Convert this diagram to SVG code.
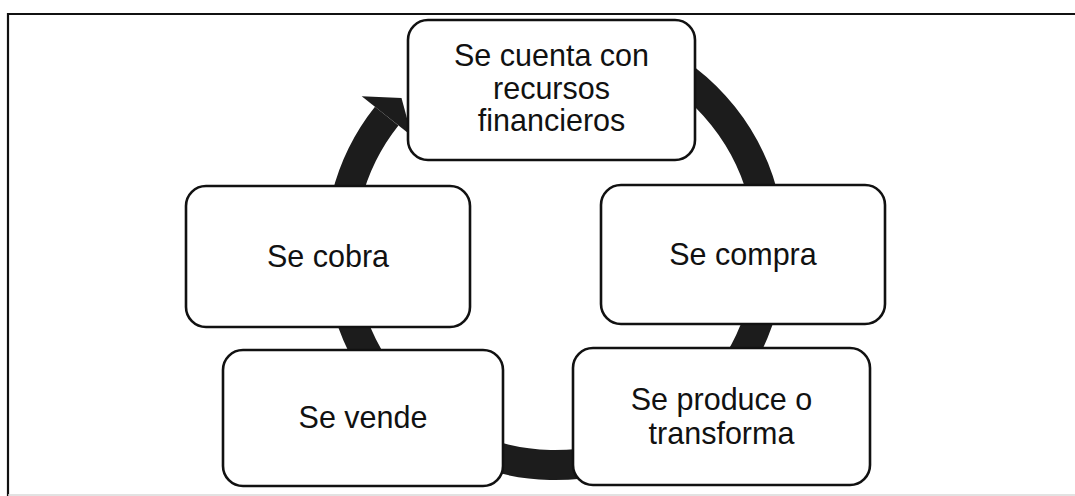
<svg xmlns="http://www.w3.org/2000/svg" width="1075" height="496" viewBox="0 0 1075 496">
  <defs>
    <style>
      .box { fill: #ffffff; stroke: #111111; stroke-width: 2.6; }
      .lbl { font-family: "Liberation Sans", Arial, sans-serif; font-size: 30.5px; fill: #111111; text-anchor: middle; }
      .ring { fill: none; stroke: #1c1c1c; stroke-width: 30; }
      .head { fill: #1c1c1c; }
      .frame { fill: none; stroke: #111111; stroke-width: 2.2; }
    </style>
  </defs>
  <rect x="0" y="0" width="1075" height="496" fill="#ffffff"/>
  <path class="frame" d="M 8 496 L 8 14 L 1075 14"/>
  <line x1="8" y1="495" x2="1075" y2="495" stroke="#d8d8d8" stroke-width="1.5"/>

  <g id="connectors">
    <path class="ring" d="M 555 35 A 215 215 0 1 1 386.7 116.2"/>
    <polygon class="head" points="361.7,96.2 401.5,98 411.8,136.1"/>
  </g>

  <g id="node-recursos">
    <rect class="box" x="408" y="20" width="287" height="140" rx="20" ry="20"/>
    <text class="lbl" x="551.5" y="66">Se cuenta con</text>
    <text class="lbl" x="551.5" y="98.5">recursos</text>
    <text class="lbl" x="551.5" y="131">financieros</text>
  </g>

  <g id="node-compra">
    <rect class="box" x="601" y="185" width="284" height="139" rx="20" ry="20"/>
    <text class="lbl" x="743" y="265">Se compra</text>
  </g>

  <g id="node-produce">
    <rect class="box" x="573" y="348" width="297" height="137" rx="20" ry="20"/>
    <text class="lbl" x="721.5" y="410">Se produce o</text>
    <text class="lbl" x="721.5" y="444">transforma</text>
  </g>

  <g id="node-vende">
    <rect class="box" x="223" y="350" width="280" height="136" rx="20" ry="20"/>
    <text class="lbl" x="363" y="428">Se vende</text>
  </g>

  <g id="node-cobra">
    <rect class="box" x="186" y="186" width="284" height="141" rx="20" ry="20"/>
    <text class="lbl" x="328" y="267">Se cobra</text>
  </g>
</svg>
